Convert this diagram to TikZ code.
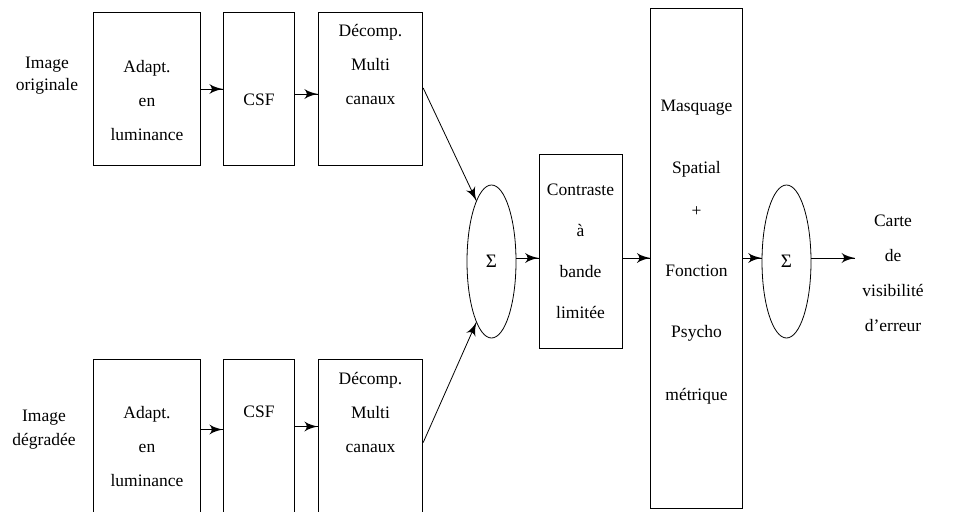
\documentclass[tikz,border=0pt]{standalone}
\usepackage{fontspec}
\setmainfont{LiberationSerif}[Extension=.ttf, UprightFont=*-Regular, BoldFont=*-Bold,
                                ItalicFont=*-Italic, BoldItalicFont=*-BoldItalic]
\usetikzlibrary{arrows}
\usetikzlibrary{decorations.markings}
\usetikzlibrary{positioning}
\usetikzlibrary{shapes.geometric}
\tikzset{->/.style = {decoration={markings,
                                  mark=at position 1 with {\arrow[scale=2.6]{latex'}}},
                      postaction={decorate}}}
\tikzset{blk/.style = {draw, line width=0.9pt, minimum height=153.5pt, inner sep=0pt},
         sum/.style = {draw, ellipse, line width=0.8pt, minimum width=49pt,
                       minimum height=153pt, inner sep=0pt, font=\fontsize{19}{21}\selectfont},
         txt/.style = {align=center, font=\fontsize{17.5}{34}\selectfont}}

\begin{document}
\begin{tikzpicture}[x=1pt, y=-1pt, line width=0.8pt]
      \useasboundingbox (0,0) rectangle (965,511);

      % image originale
      \node [txt, font=\fontsize{17.5}{22}\selectfont] (imgO) at (47,76) {Image\\originale};
      \node [blk, minimum width=107.5pt] (adaptO) at (147,89) {};
      \node [blk, minimum width=71.5pt] (csfO) at (259,89) {};
      \node [blk, minimum width=104.5pt] (decO) at (370.5,89) {};
      \node [txt] (adaptOt) at (147,101) {Adapt.\\en\\luminance};
      \node [txt] (csfOt) at (259,100) {CSF};
      \node [txt] (decOt) at (370.5,65) {Décomp.\\Multi\\canaux};

      % image degradee
      \node [txt, font=\fontsize{17.5}{24}\selectfont] (imgD) at (44,430) {Image\\dégradée};
      \node [blk, minimum width=107.5pt] (adaptD) at (147,436) {};
      \node [blk, minimum width=71.5pt] (csfD) at (259,436) {};
      \node [blk, minimum width=104.5pt] (decD) at (370.5,436) {};
      \node [txt] (adaptDt) at (147,447) {Adapt.\\en\\luminance};
      \node [txt] (csfDt) at (259,412) {CSF};
      \node [txt] (decDt) at (370.5,412) {Décomp.\\Multi\\canaux};

      % sommes, contraste, masquage
      \node [sum] (sum1) at (491.5,261.5) {Σ};
      \node [blk, minimum width=83pt, minimum height=194pt] (contr) at (580.5,251) {};
      \node [txt, font=\fontsize{17.5}{41}\selectfont] (contrt) at (580.5,251) {Contraste\\à\\bande\\limitée};
      \node [blk, minimum width=91.5pt, minimum height=500pt] (masq) at (696.5,258) {};
      \node [txt] (masqt) at (696.5,252)
            {Masquage\\[28pt]Spatial\\[9pt]+\\[26pt]Fonction\\[27pt]Psycho\\[29pt]métrique};
      \node [sum] (sum2) at (786.5,261.5) {Σ};
      \node [txt, font=\fontsize{17.5}{35}\selectfont] (carte) at (893,273)
            {Carte\\de\\visibilité\\d’erreur};

      \draw [->] (adaptO) -- (csfO);
      \draw [->] ([yshift=-5pt]csfO.east) -- ([yshift=-5pt]decO.west);
      \draw [->] ([yshift=1pt]decO.east) -- (sum1.104);

      \draw [->] ([yshift=6.5pt]adaptD.east) -- ([yshift=6.5pt]csfD.west);
      \draw [->] ([yshift=9.5pt]csfD.east) -- ([yshift=9.5pt]decD.west);
      \draw [->] ([yshift=-6.5pt]decD.east) -- (sum1.256);

      \draw [->] (sum1.east |- masq) -- (contr.west |- masq);
      \draw [->] (contr.east |- masq) -- (masq.west);
      \draw [->] (masq.east) -- (sum2.west |- masq);
      \draw [->] (sum2.east |- masq) -- (855,258);
    \end{tikzpicture}
\end{document}
